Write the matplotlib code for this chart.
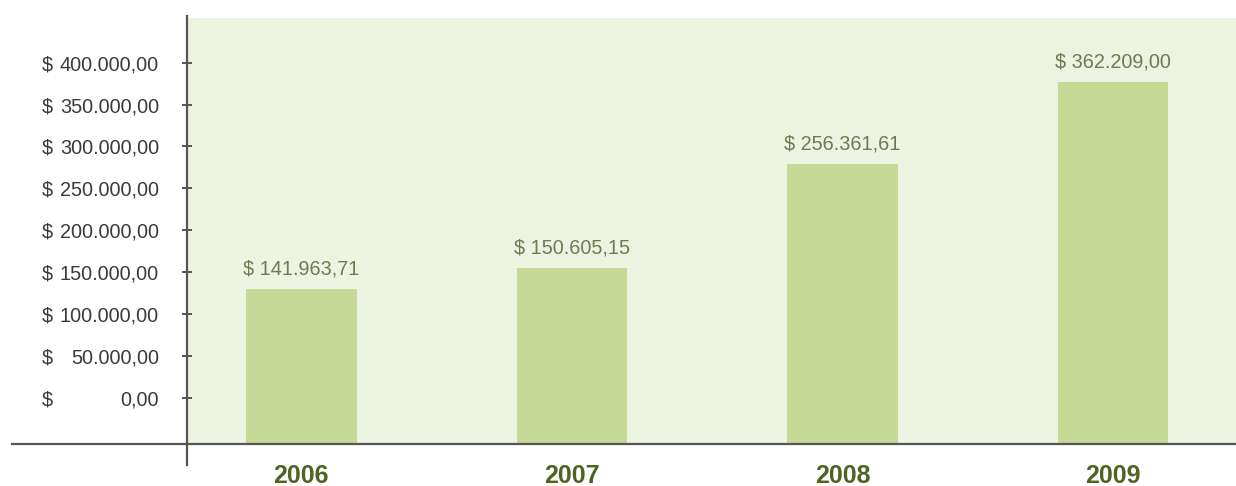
import matplotlib
matplotlib.use('Agg')
import matplotlib.pyplot as plt

# dados
anos = ['2006', '2007', '2008', '2009']
topo_barras = [129800, 154500, 279000, 376600]
rotulos = ['$ 141.963,71', '$ 150.605,15', '$ 256.361,61', '$ 362.209,00']
ticks_y = [0, 50000, 100000, 150000, 200000, 250000, 300000, 350000, 400000]
ticks_y_txt = ['0,00', '50.000,00', '100.000,00', '150.000,00', '200.000,00',
               '250.000,00', '300.000,00', '350.000,00', '400.000,00']

plt.rcParams['font.family'] = ['Liberation Sans', 'DejaVu Sans']

W, H = 1236, 486
fig = plt.figure(figsize=(W / 100, H / 100), dpi=100)
ax = fig.add_axes([187 / W, (H - 444) / H, (W - 187) / W, (444 - 18) / H])
ax.set_facecolor('#ecf3e1')

ymin, ymax = -55300, 453400
ax.set_ylim(ymin, ymax)
ax.set_xlim(-0.4224, 3.454)

x = list(range(len(anos)))
alturas = [t - ymin for t in topo_barras]
ax.bar(x, alturas, bottom=ymin, width=0.408, color='#c6d997', zorder=2)

for xi, t, r in zip(x, topo_barras, rotulos):
    ax.annotate(r, xy=(xi, t), xytext=(0, 20), textcoords='offset pixels',
                ha='center', va='center', fontsize=14.3, color='#6f7a50')

for s in ax.spines.values():
    s.set_visible(False)

ax.plot([0, 0], [-0.049, 1.005], transform=ax.transAxes, color='#555555',
        lw=1.6, clip_on=False, zorder=5)
ax.plot([-0.1668, 1.0], [0, 0], transform=ax.transAxes, color='#555555',
        lw=1.6, clip_on=False, zorder=5)

ax.set_yticks(ticks_y)
ax.set_yticklabels(ticks_y_txt)
ax.tick_params(axis='y', direction='inout', length=7.2, width=1.4,
               color='#555555', pad=16.6, labelsize=14.3, labelcolor='#3a3a3a')
for v in ticks_y:
    ax.annotate('$', xy=(0, v), xycoords=('axes fraction', 'data'),
                xytext=(-145, 0), textcoords='offset pixels',
                ha='left', va='center_baseline', fontsize=14.3, color='#3a3a3a')

ax.set_xticks(x)
ax.set_xticklabels(anos, fontweight='bold', fontsize=18, color='#4f6422')
ax.tick_params(axis='x', length=0, pad=14.4)

fig.savefig('out.png', dpi=100)
